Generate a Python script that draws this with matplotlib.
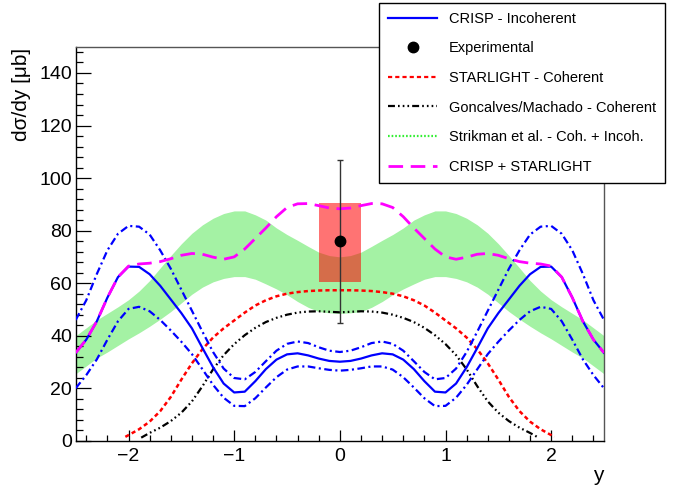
import matplotlib
matplotlib.use("Agg")
import matplotlib.pyplot as plt
from matplotlib.ticker import MultipleLocator
from matplotlib.lines import Line2D

plt.rcParams['font.family'] = ['Liberation Sans', 'DejaVu Sans']
plt.rcParams['lines.scale_dashes'] = False

# ---------------- data ----------------
y_grid = [-2.5, -2.4, -2.3, -2.2, -2.1, -2.0, -1.9, -1.8, -1.7, -1.6, -1.5, -1.4, -1.3,
          -1.2, -1.1, -1.0, -0.9, -0.8, -0.7, -0.6, -0.5, -0.4, -0.3, -0.2, -0.1, 0.0,
          0.1, 0.2, 0.3, 0.4, 0.5, 0.6, 0.7, 0.8, 0.9, 1.0, 1.1, 1.2, 1.3, 1.4, 1.5,
          1.6, 1.7, 1.8, 1.9, 2.0, 2.1, 2.2, 2.3, 2.4, 2.5]

crisp_incoh = [33.5, 38.5, 45.5, 54.5, 62.3, 66.3, 66.2, 63.4, 59, 53.8, 48.6, 42.8, 35.3, 28, 21.8,
               18.4, 18.7, 22.7, 27.3, 30.9, 32.9, 33.3, 32.5, 31.3, 30.4, 30.1,
               30.4, 31.3, 32.5, 33.3, 32.9, 30.9, 27.3, 22.7, 18.7, 18.4, 21.8, 28, 35.3, 42.8, 48.6,
               53.8, 59, 63.4, 66.2, 66.3, 62.3, 54.5, 45.5, 38.5, 33.5]

crisp_upper = [46, 53.5, 63.5, 72.5, 78.8, 81.8, 81.5, 78.5, 72.5, 65.5, 57.5, 49.5, 41.5, 33.8, 27.5,
               23.9, 23.4, 26.2, 30.3, 34.3, 36.9, 37.8, 37.2, 35.6, 34.3, 33.8,
               34.3, 35.6, 37.2, 37.8, 36.9, 34.3, 30.3, 26.2, 23.4, 23.9, 27.5, 33.8, 41.5, 49.5, 57.5,
               65.5, 72.5, 78.5, 81.5, 81.8, 78.8, 72.5, 63.5, 53.5, 46]

crisp_lower = [20, 25, 31, 38.5, 45.5, 50.2, 51, 49.3, 46, 42, 37.7, 33, 27.2, 21.3, 16.4,
               13.3, 13.2, 16.2, 20.3, 24.2, 27.1, 28.3, 28.3, 27.6, 27, 26.7,
               27, 27.6, 28.3, 28.3, 27.1, 24.2, 20.3, 16.2, 13.2, 13.3, 16.4, 21.3, 27.2, 33, 37.7,
               42, 46, 49.3, 51, 50.2, 45.5, 38.5, 31, 25, 20]

crisp_starlight = [33.5, 38.5, 45.5, 54.5, 62.3, 66.5, 67.3, 67.6, 68.2, 69.3, 70.6, 71.3, 71,
                   69.9, 69.1, 70, 73, 77, 81, 85.3, 88.8, 90.2, 90.3, 89.5, 88.6, 88.3,
                   88.6, 89.5, 90.3, 90.2, 88.8, 85.3, 81, 77, 73, 70, 69.1, 69.9, 71, 71.3,
                   70.6, 69.3, 68.2, 67.6, 67.3, 66.5, 62.3, 54.5, 45.5, 38.5, 33.5]

strikman_upper = [40, 43, 46, 48.5, 51, 53.7, 57, 61, 65.8, 70.5, 75, 79, 82.2, 84.7, 86.5,
                  87.5, 87.5, 86, 84, 81, 78.5, 76.3, 74, 71.8, 70.5, 70,
                  70.5, 71.8, 74, 76.3, 78.5, 81, 84, 86, 87.5, 87.5, 86.5, 84.7, 82.2, 79, 75,
                  70.5, 65.8, 61, 57, 53.7, 51, 48.5, 46, 43, 40]

strikman_lower = [25.5, 28.5, 31.5, 33.8, 36.3, 38.8, 41.1, 43.6, 46.3, 49.2, 52.5, 55.8, 58.5,
                  60.5, 61.8, 62.5, 62.5, 61.5, 59.7, 57.8, 55.6, 53, 50.8, 49.2, 48.7, 48.5,
                  48.7, 49.2, 50.8, 53, 55.6, 57.8, 59.7, 61.5, 62.5, 62.5, 61.8, 60.5, 58.5,
                  55.8, 52.5, 49.2, 46.3, 43.6, 41.1, 38.8, 36.3, 33.8, 31.5, 28.5, 25.5]

starlight_y = [-2.03, -1.9, -1.8, -1.7, -1.6, -1.5, -1.4, -1.3, -1.2, -1.1, -1.0, -0.9, -0.8,
               -0.7, -0.6, -0.5, -0.4, -0.3, -0.2, -0.1, 0.0, 0.1, 0.2, 0.3, 0.4, 0.5, 0.6,
               0.7, 0.8, 0.9, 1.0, 1.1, 1.2, 1.3, 1.4, 1.5, 1.6, 1.7, 1.8, 1.9, 2.03]
starlight_coh = [1.5, 4.4, 7.3, 11.3, 16.7, 23.3, 29.5, 34.9, 39.3, 42.8, 45.8, 48.8, 51.5,
                 53.5, 55, 56, 56.6, 57, 57.2, 57.3, 57.3, 57.3, 57.2, 57, 56.6, 56, 55,
                 53.5, 51.5, 48.8, 45.8, 42.8, 39.3, 34.9, 29.5, 23.3, 16.7, 11.3, 7.3, 4.4, 1.5]

gm_y = [-1.88, -1.8, -1.7, -1.6, -1.5, -1.4, -1.3, -1.2, -1.1, -1.0, -0.9, -0.8, -0.7, -0.6,
        -0.5, -0.4, -0.3, -0.2, -0.1, 0.0, 0.1, 0.2, 0.3, 0.4, 0.5, 0.6, 0.7, 0.8, 0.9, 1.0,
        1.1, 1.2, 1.3, 1.4, 1.5, 1.6, 1.7, 1.8, 1.88]
gm_coh = [1.2, 3, 5, 7.5, 10.7, 15, 20.8, 27.2, 32.6, 36.8, 40.2, 43, 45.2, 46.8, 48, 48.8, 49.2,
          49.3, 49.1, 48.9, 49.1, 49.3, 49.2, 48.8, 48, 46.8, 45.2, 43, 40.2, 36.8, 32.6, 27.2,
          20.8, 15, 10.7, 7.5, 5, 3, 1.2]

exp_y = [0.0]
exp_val = [76.0]
exp_stat = [31.0]
exp_box_halfwidth = 0.2
exp_box_low = 60.6
exp_box_high = 90.7

labels = ["CRISP - Incoherent", "Experimental", "STARLIGHT - Coherent",
          "Goncalves/Machado - Coherent", "Strikman et al. - Coh. + Incoh.",
          "CRISP + STARLIGHT"]

# ---------------- figure ----------------
W, H = 681, 488
fig = plt.figure(figsize=(W / 100, H / 100), dpi=100)
L, R, T, B = 75.7, 604, 46.7, 440.8
ax = fig.add_axes([L / W, 1 - B / H, (R - L) / W, (B - T) / H])

green = '#a4f2a4'
ax.fill_between(y_grid, strikman_lower, strikman_upper, color=green, lw=0, zorder=1)
ax.fill_between([exp_y[0] - exp_box_halfwidth, exp_y[0] + exp_box_halfwidth],
                exp_box_low, exp_box_high, color='red', alpha=0.55, lw=0, zorder=2)

red_dash = (0, (3.0, 2.2))
dashdot = (0, (5.5, 2.5, 1.5, 2.5))
dash3dot = (0, (5.0, 2.2, 1.2, 2.2, 1.2, 2.2, 1.2, 2.2))
longdash = (0, (10.5, 5.5))
dotted = (0, (1.2, 1.4))

ax.plot(gm_y, gm_coh, color='black', lw=1.6, linestyle=dash3dot, zorder=3)
ax.plot(starlight_y, starlight_coh, color='red', lw=1.8, linestyle=red_dash, zorder=3)
ax.plot(y_grid, crisp_upper, color='blue', lw=1.6, linestyle=dashdot, zorder=4)
ax.plot(y_grid, crisp_lower, color='blue', lw=1.6, linestyle=dashdot, zorder=4)
ax.plot(y_grid, crisp_incoh, color='blue', lw=1.6, linestyle='-', zorder=5)
ax.plot(y_grid, crisp_starlight, color='magenta', lw=2.0, linestyle=longdash, zorder=6)
ax.errorbar(exp_y, exp_val, yerr=exp_stat, fmt='o', color='black', ms=7.5,
            ecolor='#333333', elinewidth=1.0, capsize=2.5, capthick=1.0, zorder=7)

ax.set_xlim(-2.5, 2.5)
ax.set_ylim(0, 150)
ax.xaxis.set_major_locator(MultipleLocator(1))
ax.xaxis.set_minor_locator(MultipleLocator(0.2))
ax.yaxis.set_major_locator(MultipleLocator(20))
ax.yaxis.set_minor_locator(MultipleLocator(4))
ax.tick_params(axis='both', which='both', direction='in', top=False, right=False,
               width=0.9, color='black', labelsize=14)
ax.tick_params(axis='x', which='major', length=8, pad=5)
ax.tick_params(axis='x', which='minor', length=4.3)
ax.tick_params(axis='y', which='major', length=10.5, pad=2.5)
ax.tick_params(axis='y', which='minor', length=5.3)
for s in ['left', 'bottom']:
    ax.spines[s].set_color('black')
    ax.spines[s].set_linewidth(1.0)
for s in ['top', 'right']:
    ax.spines[s].set_color('#555555')
    ax.spines[s].set_linewidth(1.0)

fig.text(22 / W, 1 - 48 / H, 'dσ/dy [μb]', rotation=90, ha='center', va='top', fontsize=15)
fig.text(604 / W, 1 - 481 / H, 'y', ha='right', va='baseline', fontsize=15)

handles = [
    Line2D([], [], color='blue', lw=1.6),
    Line2D([], [], color='black', marker='o', ms=7.5, linestyle='none'),
    Line2D([], [], color='red', lw=1.6, linestyle=red_dash),
    Line2D([], [], color='black', lw=1.6, linestyle=dash3dot),
    Line2D([], [], color='#33ee33', lw=1.6, linestyle=dotted),
    Line2D([], [], color='magenta', lw=2.0, linestyle=longdash),
]
leg = fig.legend(handles, labels, loc='upper left', bbox_to_anchor=(379 / W, 1 - 3 / H),
                 borderaxespad=0, fontsize=10.5, handlelength=3.4, handletextpad=0.8,
                 borderpad=0.6, labelspacing=1.07, fancybox=False, framealpha=1,
                 edgecolor='black', frameon=True)
leg.get_frame().set_linewidth(1.0)

fig.savefig('out.png', dpi=100)
